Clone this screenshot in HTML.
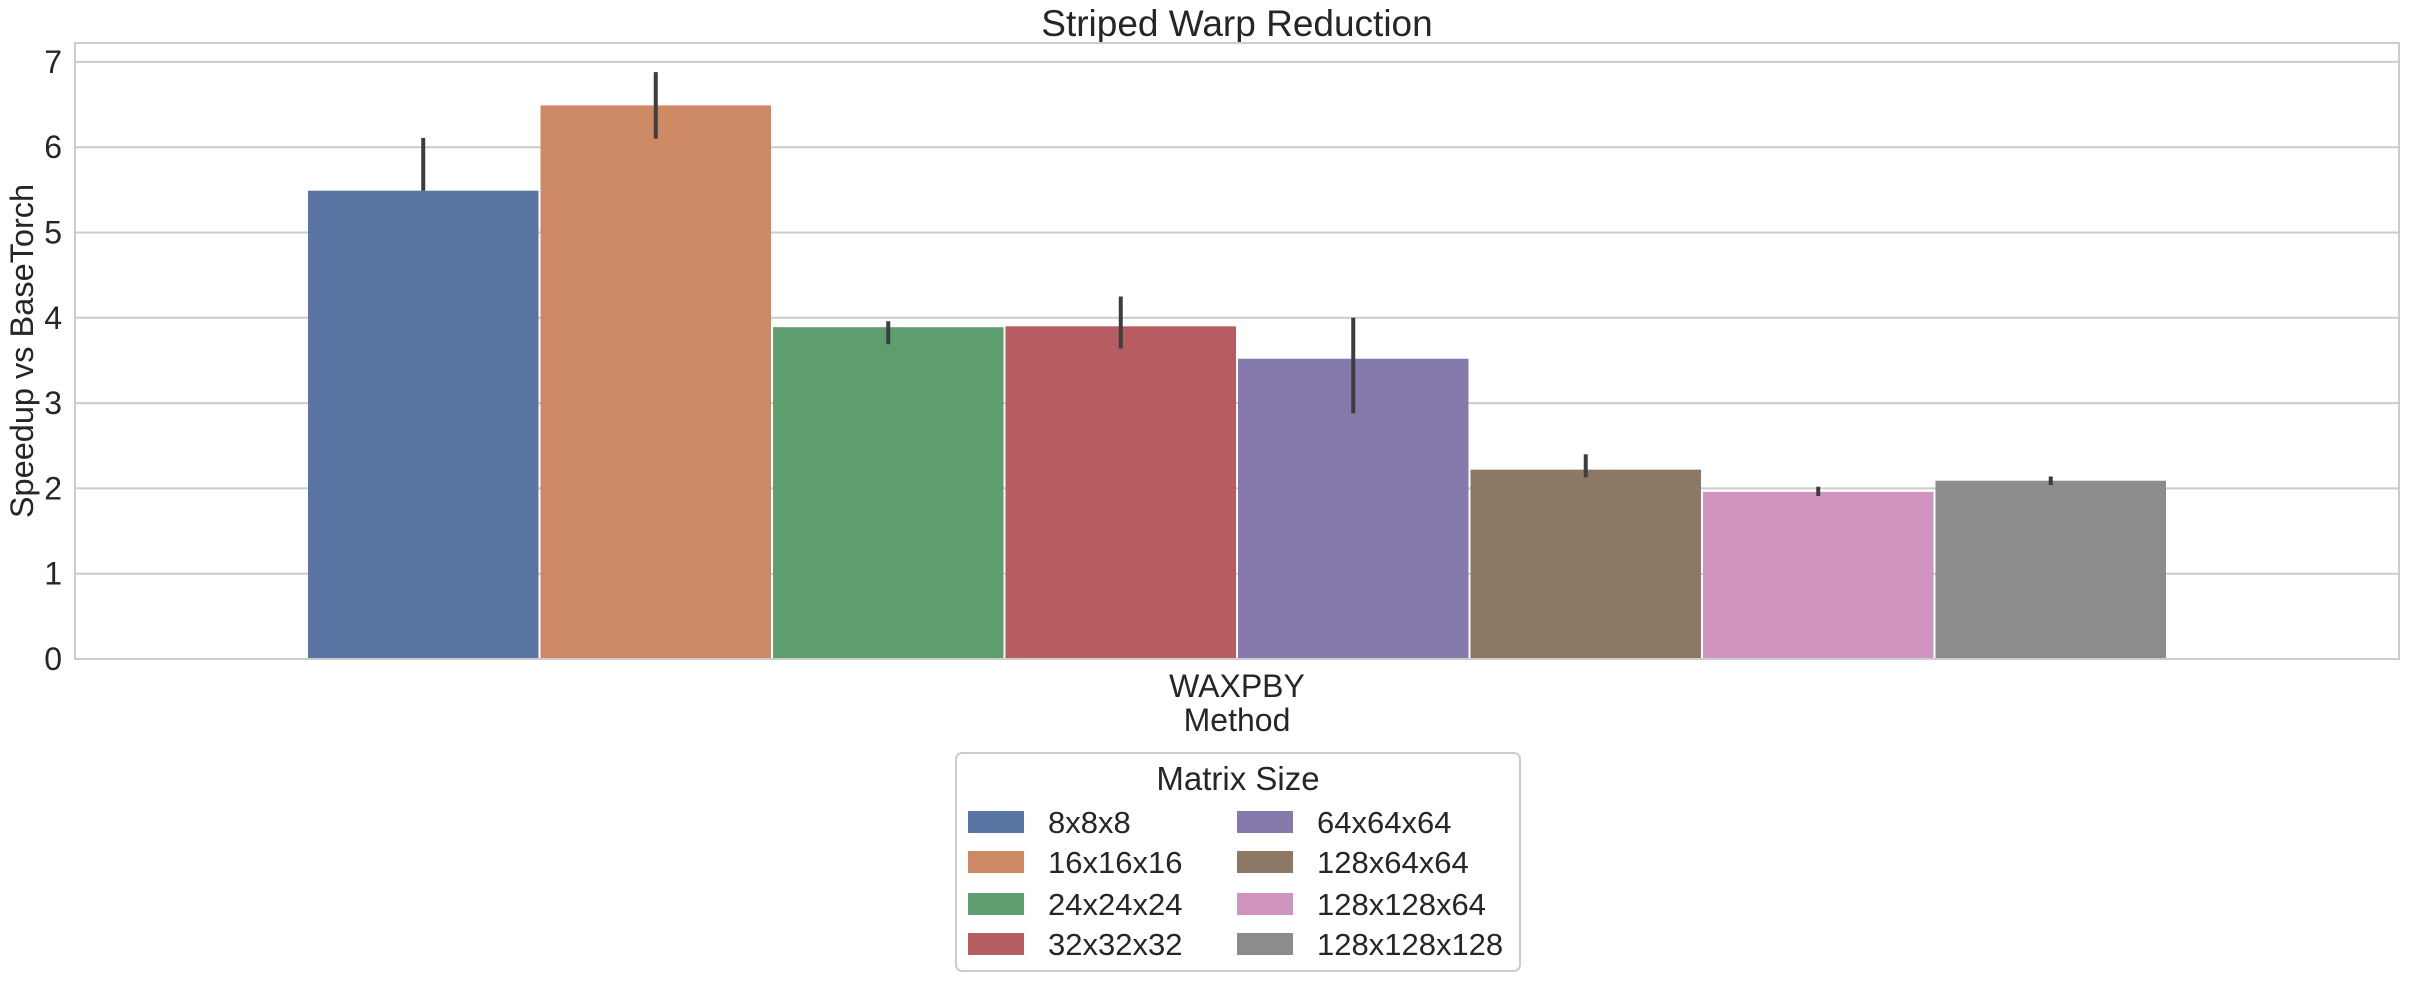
<!DOCTYPE html>
<html><head><meta charset="utf-8"><style>
body{margin:0;background:#fff;}
svg text{font-family:"Liberation Sans","DejaVu Sans",sans-serif;fill:#262626;}
</style></head><body>
<svg id="c" width="2410" height="982" xmlns="http://www.w3.org/2000/svg">
<text x="1237" y="36" font-size="37" text-anchor="middle">Striped Warp Reduction</text>
<g id="grid"></g>
<g id="bars"></g>
<g id="errs"></g>
<rect x="75" y="43" width="2324" height="616" fill="none" stroke="#cccccc" stroke-width="2"/>
<g id="yticks"></g>
<text x="1237" y="697" font-size="32" text-anchor="middle">WAXPBY</text>
<text x="1237" y="731" font-size="32" text-anchor="middle">Method</text>
<text transform="translate(33,351) rotate(-90)" font-size="32.5" text-anchor="middle">Speedup vs BaseTorch</text>
<g id="legend">
<rect x="956" y="753" width="564" height="218" rx="6" fill="#fff" stroke="#cccccc" stroke-width="2"/>
<text x="1238" y="790" font-size="33" text-anchor="middle">Matrix Size</text>
</g>
</svg>
<script>
const categories=["8x8x8","16x16x16","24x24x24","32x32x32","64x64x64","128x64x64","128x128x64","128x128x128"];
const values=[5.49,6.49,3.89,3.9,3.52,2.22,1.96,2.09];
const errLow=[5.49,6.1,3.69,3.64,2.88,2.13,1.91,2.04];
const errHigh=[6.11,6.88,3.96,4.25,4.0,2.4,2.02,2.14];
const colors=["#5975a4","#cc8963","#5f9e6e","#b55d60","#857aab","#8d7866","#d095bf","#8c8c8c"];
const yTicks=[0,1,2,3,4,5,6,7];
const NS="http://www.w3.org/2000/svg";
const y0=659,unit=85.3,barW=232.5,start=307;
const Y=v=>y0-v*unit;
const X=i=>start+i*barW;
function mk(t,a,p){const e=document.createElementNS(NS,t);for(const k in a)e.setAttribute(k,a[k]);p.appendChild(e);return e;}
const grid=document.getElementById('grid'),yt=document.getElementById('yticks');
yTicks.forEach(t=>{
 const l=mk('line',{x1:75,x2:2399,y1:Y(t),y2:Y(t),stroke:'#cccccc','stroke-width':2},grid);
 
 
 const tx=mk('text',{x:62,y:Y(t)+11,'font-size':32,'text-anchor':'end'},yt);
 tx.textContent=t;
 
 
});
const bars=document.getElementById('bars'),errs=document.getElementById('errs');
values.forEach((v,i)=>{
 const r=mk('rect',{x:X(i)+1,y:Y(v),width:barW-2,height:y0-Y(v),fill:colors[i]},bars);
 
 
 const e=mk('line',{x1:X(i)+barW/2,x2:X(i)+barW/2,y1:Y(errLow[i]),y2:Y(errHigh[i]),stroke:'#3d3d3d','stroke-width':4},errs);
 
 
});
const lg=document.getElementById('legend');
categories.forEach((c,i)=>{
 const col=Math.floor(i/4),row=i%4;
 const px=col?1237:968, ty=[822,862,904,944][row];
 const g=mk('g',{},lg);
 
 
 mk('rect',{x:px,y:ty-11,width:56,height:22,fill:colors[i]},g);
 const t=mk('text',{x:px+80,y:ty+11,'font-size':31},g);
 t.textContent=c;
});
</script>
</body></html>
